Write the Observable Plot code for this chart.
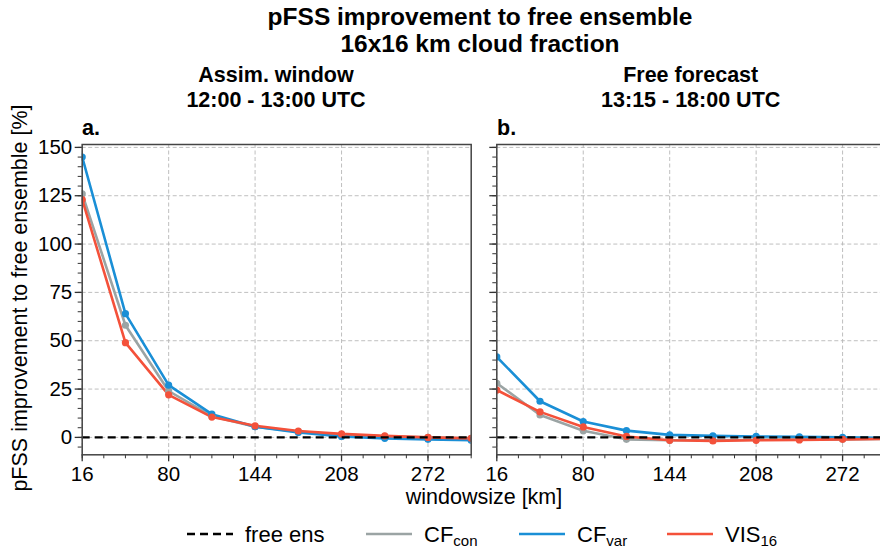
<!DOCTYPE html>
<html><head><meta charset="utf-8">
<script src="https://cdn.jsdelivr.net/npm/d3@7"></script>
<script src="https://cdn.jsdelivr.net/npm/@observablehq/plot@0.6"></script>
<style>
body{margin:0;background:#fff;font-family:"Liberation Sans",Arial,sans-serif;}
#fig{position:relative;width:880px;height:548px;overflow:hidden;background:#fff;}
.t{position:absolute;white-space:nowrap;color:#000;line-height:1.15;}
.p{position:absolute;}
</style></head><body><div id="fig"></div>
<script>
// ---- data ----
const windowsize = [16, 48, 80, 112, 144, 176, 208, 240, 272, 304];
const seriesNames = ["CF_con", "CF_var", "VIS16"];
const seriesColors = ["#9ba4a4", "#1a8fd6", "#f4513a"];
// panel a: assimilation window 12:00 - 13:00 UTC
const cfConA = [126, 58, 24, 11, 5.5, 3, 1.5, 0.5, 0, -0.5];
const cfVarA = [145, 64, 27, 12, 5.5, 2.5, 0.5, -0.5, -1, -1.5];
const vis16A = [123, 49, 22, 10.5, 6, 3.3, 1.8, 0.8, 0, -0.5];
// panel b: free forecast 13:15 - 18:00 UTC
const cfConB = [28, 11.6, 3.4, -1, -1.5, -1.5, -1.2, -1, -1, -0.8];
const cfVarB = [41.6, 18.7, 8.2, 3.5, 1.3, 0.8, 0.5, 0.3, 0, -0.2];
const vis16B = [24.5, 13.2, 5.4, 0.5, -1.5, -1.8, -1.5, -1.3, -1, -0.8];
// ticks
const xMajor = [16, 80, 144, 208, 272];
const xMinor = [16, 32, 48, 64, 80, 96, 112, 128, 144, 160, 176, 192, 208, 224, 240, 256, 272, 288, 304];
const yMajor = [0, 25, 50, 75, 100, 125, 150];
const yMinor = [-5, 0, 5, 10, 15, 20, 25, 30, 35, 40, 45, 50, 55, 60, 65, 70, 75, 80, 85, 90, 95, 100, 105, 110, 115, 120, 125, 130, 135, 140, 145, 150];
const freeEns = [0];

function rowsOf(arrs) {
  const out = [];
  arrs.forEach((vals, i) => vals.forEach((v, j) => out.push({x: windowsize[j], y: v, s: seriesNames[i]})));
  return out;
}

const fig = document.getElementById("fig");

function panel(rows, showLabels, cfg) {
  const gridStyle = {stroke: "#b8b8b8", strokeOpacity: 1, strokeWidth: 0.9, strokeDasharray: "4,2.5"};
  const p = Plot.plot({
    width: cfg.width, height: cfg.height,
    marginLeft: cfg.ml, marginRight: cfg.mr, marginTop: cfg.mt, marginBottom: cfg.mb,
    x: {domain: [16, 304]},
    y: {domain: [-9, 151.5]},
    color: {domain: seriesNames, range: seriesColors},
    style: {fontFamily: "'Liberation Sans', Arial, sans-serif", fontSize: "20px", color: "#000", background: "transparent", overflow: "visible"},
    marks: [
      Plot.gridX(xMajor, gridStyle),
      Plot.gridY(yMajor, gridStyle),
      Plot.axisX(xMinor, {tickSize: 4, tickFormat: () => "", label: null, stroke: "#333", strokeWidth: 1}),
      Plot.axisX(xMajor, {tickSize: 7, tickPadding: 5, label: null, stroke: "#333", strokeWidth: 1.3, fontSize: 20.5}),
      Plot.axisY(yMinor, {tickSize: 4, tickFormat: () => "", label: null, stroke: "#333", strokeWidth: 1}),
      Plot.axisY(yMajor, {tickSize: 7, tickPadding: 3, label: null, stroke: "#333", strokeWidth: 1.3, fontSize: 20.5, tickFormat: showLabels ? (d => String(d)) : (() => "")}),
      Plot.line(rows, {x: "x", y: "y", stroke: "s", z: "s", strokeWidth: 2.6, clip: true}),
      Plot.dot(rows, {x: "x", y: "y", fill: "s", r: 3.6, clip: true}),
      Plot.ruleY(freeEns, {stroke: "#000", strokeWidth: 2.4, strokeDasharray: "8,5"}),
      Plot.frame({stroke: "#444", strokeWidth: 1.5})
    ]
  });
  p.classList.add("p");
  p.style.left = cfg.left + "px";
  p.style.top = cfg.top + "px";
  fig.appendChild(p);
}

// panel a: frame x 81.7..470.7, y 144..454.3
panel(rowsOf([cfConA, cfVarA, vis16A]), true, {left: 0, top: 130, width: 480, height: 360, ml: 81.7, mr: 9.3, mt: 14, mb: 35.7});
// panel b: frame x 496.3..885.3 (clipped at 880)
panel(rowsOf([cfConB, cfVarB, vis16B]), false, {left: 480, top: 130, width: 420, height: 360, ml: 16.3, mr: 14.7, mt: 14, mb: 35.7});

function text(str, x, y, opt = {}) {
  const d = document.createElement("div");
  d.className = "t";
  d.innerHTML = str;
  d.style.fontSize = (opt.size || 19) + "px";
  d.style.fontWeight = opt.bold ? "bold" : "normal";
  d.style.left = x + "px";
  d.style.top = y + "px";
  const ax = opt.anchor === "start" ? "0" : "-50%";
  d.style.transform = `translate(${ax},-50%)` + (opt.rotate ? ` rotate(${opt.rotate}deg)` : "");
  fig.appendChild(d);
  return d;
}

text("pFSS improvement to free ensemble", 480, 17, {size: 24.5, bold: true});
text("16x16 km cloud fraction", 480, 44, {size: 24.5, bold: true});
text("Assim. window", 276, 75, {size: 21.5, bold: true});
text("12:00 - 13:00 UTC", 276, 100, {size: 21.5, bold: true});
text("Free forecast", 690.7, 75, {size: 21.5, bold: true});
text("13:15 - 18:00 UTC", 690.7, 100, {size: 21.5, bold: true});
text("a.", 82, 128, {size: 21.5, bold: true, anchor: "start"});
text("b.", 497, 128, {size: 21.5, bold: true, anchor: "start"});
text("pFSS improvement to free ensemble [%]", 20, 298, {size: 21.5, rotate: -90});
text("windowsize [km]", 484, 497, {size: 21.5});

// legend
const legendItems = [
  {label: "free ens", sub: "", color: "#000", dash: "8,5", x0: 187},
  {label: "CF", sub: "con", color: seriesColors[0], dash: null, x0: 366},
  {label: "CF", sub: "var", color: seriesColors[1], dash: null, x0: 519},
  {label: "VIS", sub: "16", color: seriesColors[2], dash: null, x0: 667}
];
const ly = 534;
const lsvg = d3.create("svg").attr("width", 880).attr("height", 548)
  .style("position", "absolute").style("left", "0px").style("top", "0px").style("pointer-events", "none")
  .style("font-family", "'Liberation Sans', Arial, sans-serif");
legendItems.forEach(it => {
  lsvg.append("line").attr("x1", it.x0).attr("x2", it.x0 + 46).attr("y1", ly).attr("y2", ly)
    .attr("stroke", it.color).attr("stroke-width", it.dash ? 2.4 : 2.6)
    .attr("stroke-dasharray", it.dash);
  const t = lsvg.append("text").attr("x", it.x0 + 58).attr("y", ly + 8).attr("font-size", 22).attr("fill", "#000");
  t.append("tspan").text(it.label);
  if (it.sub) t.append("tspan").attr("font-size", 15).attr("dy", 4).text(it.sub);
});
fig.appendChild(lsvg.node());
</script>
</body></html>
